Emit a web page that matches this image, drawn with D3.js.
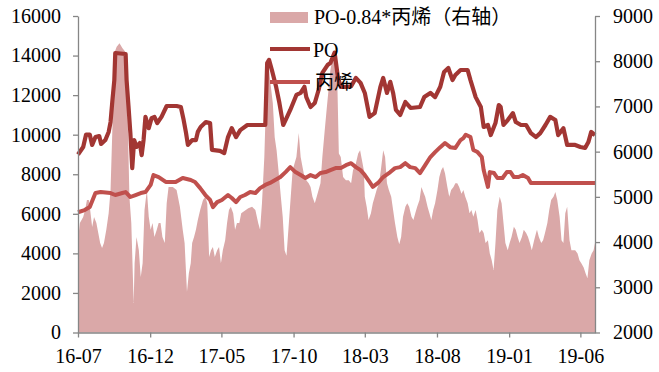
<!DOCTYPE html>
<html><head><meta charset="utf-8">
<script src="https://cdn.jsdelivr.net/npm/d3@7"></script>
<style>
html,body{margin:0;padding:0;background:#fff;}
svg{display:block;}
text{font-family:"Liberation Serif","Times New Roman","Noto Sans CJK SC",serif;fill:#000;}
</style></head>
<body><svg id="c" width="659" height="372"></svg>
<script>
// ---- data ----
const xTickLabels = ["16-07","16-12","17-05","17-10","18-03","18-08","19-01","19-06"];
const leftTicks = [0,2000,4000,6000,8000,10000,12000,14000,16000];
const rightTicks = [2000,3000,4000,5000,6000,7000,8000,9000];
const seriesNames = ["PO-0.84*丙烯（右轴）","PO","丙烯"];

// PO price (left axis)
const poSeries = [
["2016-07-01",9000],["2016-07-12",9380],["2016-07-18",10000],["2016-07-26",10000],["2016-07-31",9480],
["2016-08-07",9880],["2016-08-15",9930],["2016-08-19",9530],["2016-08-28",9730],["2016-09-04",10140],
["2016-09-08",10640],["2016-09-12",11750],["2016-09-16",12760],["2016-09-18",14130],["2016-10-10",14080],
["2016-10-12",12760],["2016-10-16",11450],["2016-10-20",10090],["2016-10-24",8310],["2016-10-28",9730],
["2016-11-02",9380],["2016-11-09",9580],["2016-11-13",8970],["2016-11-17",9730],["2016-11-21",10900],
["2016-11-28",10330],["2016-12-04",10840],["2016-12-10",10900],["2016-12-16",10590],["2016-12-25",10900],
["2017-01-05",11450],["2017-01-26",11450],["2017-02-04",11400],["2017-02-10",10740],["2017-02-15",10090],
["2017-02-19",9480],["2017-02-28",9730],["2017-03-08",9730],["2017-03-12",10140],["2017-03-18",10390],
["2017-03-29",10640],["2017-04-07",10590],["2017-04-11",9230],["2017-04-28",9180],["2017-05-07",9070],
["2017-05-15",9880],["2017-05-23",10330],["2017-06-01",9880],["2017-06-10",10230],["2017-06-25",10490],
["2017-07-26",10490],["2017-08-02",10490],["2017-08-06",13620],["2017-08-10",13780],["2017-08-16",13270],
["2017-08-25",12420],["2017-09-01",11600],["2017-09-09",10490],["2017-09-16",10840],["2017-09-24",11250],
["2017-10-07",12010],["2017-10-16",12110],["2017-10-24",12420],["2017-10-28",11900],["2017-11-06",11400],
["2017-11-15",11600],["2017-11-23",12260],["2017-12-01",13120],["2017-12-12",13520],["2017-12-18",13620],
["2017-12-27",14150],["2018-01-03",12900],["2018-01-09",12420],["2018-01-20",12420],["2018-01-31",12450],
["2018-02-10",12870],["2018-02-20",12620],["2018-03-01",12110],["2018-03-11",10900],["2018-03-22",11090],
["2018-04-03",12420],["2018-04-09",12870],["2018-04-17",12110],["2018-04-24",12670],["2018-04-30",12110],
["2018-05-06",11250],["2018-05-15",11000],["2018-05-26",11650],["2018-06-06",11350],["2018-06-26",11400],
["2018-07-05",11900],["2018-07-18",12110],["2018-07-28",11900],["2018-08-08",12420],["2018-08-16",13170],
["2018-08-25",13370],["2018-09-03",12760],["2018-09-09",13020],["2018-09-20",13270],["2018-10-05",13270],
["2018-10-11",12760],["2018-10-22",11900],["2018-11-02",11400],["2018-11-08",10390],["2018-11-17",10490],
["2018-11-23",9980],["2018-12-03",10590],["2018-12-10",11500],["2018-12-14",11400],["2018-12-20",10490],
["2018-12-29",10740],["2019-01-09",11090],["2019-01-15",10640],["2019-01-26",10490],["2019-02-06",10490],
["2019-02-16",10080],["2019-02-27",9880],["2019-03-08",10080],["2019-03-19",10490],["2019-03-29",10900],
["2019-04-09",10740],["2019-04-15",9980],["2019-04-26",10330],["2019-05-04",9480],["2019-05-21",9480],
["2019-06-01",9380],["2019-06-11",9330],["2019-06-18",9630],["2019-06-24",10140],["2019-07-02",9980]
];

// Propylene price (left axis)
const propyleneSeries = [
["2016-07-01",6080],["2016-07-15",6190],["2016-07-26",6340],["2016-08-07",7050],["2016-08-18",7100],
["2016-09-08",7050],["2016-09-18",6950],["2016-10-03",7050],["2016-10-10",7100],["2016-10-20",6850],
["2016-10-31",6950],["2016-11-11",7050],["2016-11-21",7100],["2016-12-02",7460],["2016-12-08",7960],
["2016-12-19",7860],["2017-01-03",7610],["2017-01-24",7610],["2017-02-08",7810],["2017-02-25",7710],
["2017-03-06",7610],["2017-03-17",7300],["2017-03-28",6950],["2017-04-07",6700],["2017-04-13",6340],
["2017-04-22",6590],["2017-05-02",6700],["2017-05-15",6950],["2017-05-23",6800],["2017-06-01",6590],
["2017-06-10",6850],["2017-06-20",6950],["2017-07-01",7100],["2017-07-12",7050],["2017-07-22",7300],
["2017-08-02",7460],["2017-08-12",7560],["2017-08-23",7710],["2017-09-03",7860],["2017-09-14",8110],
["2017-09-24",8360],["2017-10-05",8110],["2017-10-16",7960],["2017-10-26",7810],["2017-11-06",7960],
["2017-11-17",7860],["2017-11-27",8060],["2017-12-08",8110],["2017-12-18",8210],["2017-12-29",8310],
["2018-01-09",8310],["2018-01-20",8460],["2018-01-31",8560],["2018-02-10",8360],["2018-02-20",8210],
["2018-03-01",7960],["2018-03-11",7610],["2018-03-18",7360],["2018-03-29",7560],["2018-04-09",7860],
["2018-04-24",8110],["2018-05-04",8310],["2018-05-15",8360],["2018-05-26",8560],["2018-06-05",8360],
["2018-06-16",8310],["2018-06-26",8060],["2018-07-07",8460],["2018-07-18",8870],["2018-07-28",9120],
["2018-08-08",9370],["2018-08-18",9580],["2018-08-29",9370],["2018-09-09",9330],["2018-09-20",9730],
["2018-09-26",9830],["2018-10-01",10000],["2018-10-11",9880],["2018-10-17",9230],["2018-10-26",9120],
["2018-11-04",8870],["2018-11-08",8210],["2018-11-17",7360],["2018-11-21",8110],["2018-11-30",8060],
["2018-12-07",7810],["2018-12-18",7810],["2018-12-27",8110],["2019-01-04",8110],["2019-01-11",7860],
["2019-01-21",7860],["2019-01-30",7960],["2019-02-10",7810],["2019-02-16",7560],["2019-07-02",7560]
];

// Spread PO-0.84*propylene (right axis)
const spreadSeries = [
["2016-07-01",4045],["2016-07-05",4420],["2016-07-12",4555],["2016-07-16",4710],["2016-07-20",4930],
["2016-07-24",4930],["2016-07-26",4780],["2016-07-31",4335],["2016-08-04",4555],["2016-08-09",4420],
["2016-08-13",4200],["2016-08-17",3980],["2016-08-21",3870],["2016-08-25",3980],["2016-08-30",4270],
["2016-09-04",4640],["2016-09-08",5150],["2016-09-12",6540],["2016-09-16",8180],["2016-09-21",8320],
["2016-09-27",8400],["2016-10-03",8290],["2016-10-10",8200],["2016-10-14",6920],["2016-10-18",5000],
["2016-10-22",4420],["2016-10-27",2650],["2016-10-29",3530],["2016-11-02",4110],["2016-11-07",3820],
["2016-11-11",3230],["2016-11-15",3530],["2016-11-19",4710],["2016-11-24",5150],["2016-11-28",4560],
["2016-12-02",4270],["2016-12-06",4420],["2016-12-10",4110],["2016-12-15",4270],["2016-12-19",4420],
["2016-12-23",4420],["2016-12-27",4110],["2017-01-01",3980],["2017-01-05",4860],["2017-01-09",5220],
["2017-01-18",5220],["2017-01-26",5150],["2017-02-02",4780],["2017-02-08",4270],["2017-02-12",3980],
["2017-02-17",2900],["2017-02-21",3310],["2017-02-25",3530],["2017-02-28",3980],["2017-03-04",4110],
["2017-03-08",4270],["2017-03-12",4490],["2017-03-17",4710],["2017-03-23",4930],["2017-03-28",5000],
["2017-04-01",4860],["2017-04-05",3670],["2017-04-09",3820],["2017-04-13",3890],["2017-04-17",3670],
["2017-04-22",3820],["2017-04-26",3890],["2017-04-30",3530],["2017-05-04",3820],["2017-05-09",4040],
["2017-05-13",4420],["2017-05-17",4710],["2017-05-21",4780],["2017-05-26",4640],["2017-05-30",4270],
["2017-06-03",4420],["2017-06-08",4420],["2017-06-12",4640],["2017-06-18",4680],["2017-06-27",4750],
["2017-07-05",4780],["2017-07-12",4710],["2017-07-18",4420],["2017-07-22",4270],["2017-07-26",4860],
["2017-07-31",5880],["2017-08-05",7650],["2017-08-09",7950],["2017-08-13",7510],["2017-08-18",7070],
["2017-08-22",6320],["2017-08-26",6030],["2017-08-30",5590],["2017-09-04",5000],["2017-09-08",4560],
["2017-09-12",3820],["2017-09-16",3700],["2017-09-21",4420],["2017-09-25",5000],["2017-09-29",5590],
["2017-10-03",5740],["2017-10-07",5880],["2017-10-12",6410],["2017-10-16",5880],["2017-10-20",5660],
["2017-10-24",5440],["2017-10-28",5370],["2017-11-02",5300],["2017-11-06",5220],["2017-11-10",5000],
["2017-11-15",4860],["2017-11-19",5000],["2017-11-23",5150],["2017-11-27",5300],["2017-12-01",5880],
["2017-12-06",6470],["2017-12-10",6920],["2017-12-14",7360],["2017-12-18",7800],["2017-12-23",8100],
["2017-12-27",8250],["2018-01-01",7900],["2018-01-05",5960],["2018-01-09",5880],["2018-01-14",5440],
["2018-01-20",5370],["2018-01-26",5370],["2018-01-31",5300],["2018-02-04",5590],["2018-02-10",5740],
["2018-02-15",5960],["2018-02-19",6030],["2018-02-23",5810],["2018-02-27",5590],["2018-03-01",5000],
["2018-03-05",4780],["2018-03-09",4490],["2018-03-14",4640],["2018-03-18",4860],["2018-03-22",5000],
["2018-03-26",5150],["2018-03-31",5300],["2018-04-04",5590],["2018-04-09",6030],["2018-04-13",5880],
["2018-04-17",5300],["2018-04-21",5150],["2018-04-26",5000],["2018-04-30",4710],["2018-05-04",4420],
["2018-05-09",4110],["2018-05-13",3950],["2018-05-17",4110],["2018-05-21",4560],["2018-05-26",4780],
["2018-05-30",4860],["2018-06-03",4780],["2018-06-08",4560],["2018-06-12",4490],["2018-06-16",4640],
["2018-06-20",4780],["2018-06-25",4930],["2018-06-29",5220],["2018-07-03",5110],["2018-07-07",5000],
["2018-07-12",4780],["2018-07-16",4640],["2018-07-20",4490],["2018-07-24",4710],["2018-07-28",4860],
["2018-08-02",5150],["2018-08-06",5440],["2018-08-10",5590],["2018-08-14",5660],["2018-08-18",5520],
["2018-08-23",5220],["2018-08-27",5000],["2018-08-31",5150],["2018-09-05",5220],["2018-09-09",5300],
["2018-09-13",5300],["2018-09-17",5220],["2018-09-22",5070],["2018-09-26",5150],["2018-09-30",5000],
["2018-10-05",4860],["2018-10-09",4640],["2018-10-13",4710],["2018-10-17",4560],["2018-10-22",4710],
["2018-10-26",4490],["2018-10-30",4200],["2018-11-04",4270],["2018-11-08",4200],["2018-11-12",3980],
["2018-11-17",4040],["2018-11-21",3750],["2018-11-25",3600],["2018-11-29",3380],["2018-12-03",3980],
["2018-12-07",4710],["2018-12-12",5000],["2018-12-16",4860],["2018-12-20",4420],["2018-12-24",3980],
["2018-12-29",3820],["2019-01-02",3980],["2019-01-06",4110],["2019-01-11",4340],["2019-01-15",4270],
["2019-01-19",4110],["2019-01-23",3980],["2019-01-28",4110],["2019-02-01",4270],["2019-02-06",4200],
["2019-02-10",4110],["2019-02-14",3980],["2019-02-18",3820],["2019-02-23",4040],["2019-02-27",4200],
["2019-03-01",4270],["2019-03-05",4110],["2019-03-10",3980],["2019-03-14",4040],["2019-03-18",4200],
["2019-03-23",4420],["2019-03-27",4710],["2019-03-31",4930],["2019-04-05",5000],["2019-04-09",5110],
["2019-04-13",4930],["2019-04-18",4560],["2019-04-22",4040],["2019-04-26",3980],["2019-04-30",4640],
["2019-05-04",4780],["2019-05-09",4040],["2019-05-13",3820],["2019-05-17",3820],["2019-05-21",3820],
["2019-05-26",3750],["2019-05-30",3600],["2019-06-03",3530],["2019-06-08",3440],["2019-06-12",3310],
["2019-06-16",3200],["2019-06-20",3600],["2019-06-25",3750],["2019-06-29",3820],["2019-07-02",3980]
];

// ---- drawing ----
const parse = d3.timeParse("%Y-%m-%d");
const fmtTick = d3.timeFormat("%y-%m");
const svg = d3.select("#c");
const L = 78, R = 595, T = 16, B = 332.5;
const colArea = "#DAA8A8", colPO = "#A23633", colPr = "#C0504D", colAxis = "#868686";

const x = d3.scaleTime().domain([parse("2016-07-01"), parse("2019-07-02")]).range([L, R]);
const yL = d3.scaleLinear().domain([0, 16000]).range([B, T]);
const yR = d3.scaleLinear().domain([2000, 9000]).range([B, T]);

const po = poSeries.map(d => ({date: parse(d[0]), v: d[1]}));
const pr = propyleneSeries.map(d => ({date: parse(d[0]), v: d[1]}));
const sp = spreadSeries.map(d => ({date: parse(d[0]), v: d[1]}));

svg.append("path").datum(sp)
  .attr("fill", colArea)
  .attr("d", d3.area().x(d => x(d.date)).y0(yR(2000)).y1(d => yR(d.v)));

svg.append("path").datum(pr)
  .attr("fill", "none").attr("stroke", colPr).attr("stroke-width", 4).attr("stroke-linejoin", "round")
  .attr("d", d3.line().x(d => x(d.date)).y(d => yL(d.v)));

svg.append("path").datum(po)
  .attr("fill", "none").attr("stroke", colPO).attr("stroke-width", 4.2).attr("stroke-linejoin", "round")
  .attr("d", d3.line().x(d => x(d.date)).y(d => yL(d.v)));

// axes
const tickDates = xTickLabels.map(s => d3.timeParse("%y-%m")(s));
function styleAxis(g) {
  g.selectAll("path.domain").attr("stroke", colAxis).attr("stroke-width", 1.3);
  g.selectAll(".tick line").attr("stroke", colAxis).attr("stroke-width", 1.3);
  g.selectAll(".tick text").attr("font-size", 20).attr("fill", "#000")
    .style("font-family", '"Liberation Serif","Times New Roman",serif');
}
svg.append("g").attr("transform", `translate(${L},0)`)
  .call(d3.axisLeft(yL).tickValues(leftTicks).tickFormat(d3.format("d")).tickSize(5).tickSizeOuter(0).tickPadding(12))
  .call(styleAxis);
svg.append("g").attr("transform", `translate(${R},0)`)
  .call(d3.axisRight(yR).tickValues(rightTicks).tickFormat(d3.format("d")).tickSize(5).tickSizeOuter(0).tickPadding(13))
  .call(styleAxis);
svg.append("g").attr("transform", `translate(0,${B})`)
  .call(d3.axisBottom(x).tickValues(tickDates).tickFormat(fmtTick).tickSize(5).tickSizeOuter(0).tickPadding(11))
  .call(styleAxis);

// legend
const lg = svg.append("g");
lg.append("rect").attr("x", 270).attr("y", 12).attr("width", 38).attr("height", 11).attr("fill", colArea);
lg.append("text").attr("x", 314).attr("y", 24).attr("font-size", 20).text(seriesNames[0]);
lg.append("line").attr("x1", 270).attr("x2", 310).attr("y1", 49).attr("y2", 49)
  .attr("stroke", colPO).attr("stroke-width", 4);
lg.append("text").attr("x", 313).attr("y", 57).attr("font-size", 20).text(seriesNames[1]);
lg.append("line").attr("x1", 270).attr("x2", 310).attr("y1", 82).attr("y2", 82)
  .attr("stroke", colPr).attr("stroke-width", 4);
lg.append("text").attr("x", 315).attr("y", 89).attr("font-size", 19).text(seriesNames[2]);
</script></body></html>
